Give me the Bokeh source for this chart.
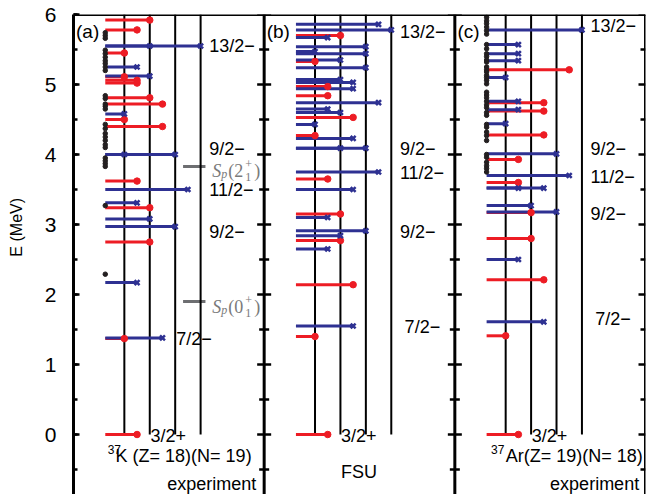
import numpy as np
from bokeh.plotting import figure
from bokeh.layouts import row
from bokeh.models import (Range1d, SingleIntervalTicker, Label, Span, ColumnDataSource)
from bokeh.embed import file_html
from bokeh.resources import INLINE

# ---------------- data (energies in MeV, spins as 2J) ----------------
# (a) 37K experiment
k37_pos_E  = [0.00, 1.37, 2.75, 3.24, 3.62, 4.40, 4.50, 4.72, 4.81, 5.02, 5.06, 5.11, 5.45, 5.78, 5.92]
k37_pos_2J = [3, 1, 5, 5, 3, 7, 1, 7, 5, 3, 3, 1, 1, 3, 5]
k37_neg_E  = [1.38, 2.17, 2.97, 3.08, 3.31, 3.50, 4.00, 4.00, 4.58, 5.12, 5.25, 5.55, 5.55]
k37_neg_2J = [7, 3, 9, 5, 3, 11, 1, 9, 1, 5, 3, 5, 13]
k37_other_E = [5.74, 5.70, 5.66, 5.49, 5.44, 5.39, 5.34, 5.30, 5.25, 5.20,
               4.84, 4.80, 4.72, 4.69, 4.65, 4.43, 4.37, 4.30, 4.25, 4.20, 4.14, 4.10,
               3.95, 3.91, 3.87, 3.83, 3.27, 2.29]
# (b) FSU
fsu_pos_E  = [0.00, 1.40, 2.14, 2.77, 3.15, 3.65, 4.27, 4.53, 4.84, 4.97, 5.33, 5.70]
fsu_pos_2J = [3, 1, 7, 5, 5, 3, 1, 7, 3, 3, 1, 5]
fsu_neg_E  = [1.55, 2.65, 2.84, 2.91, 3.10, 3.50, 3.75, 4.09, 4.09, 4.23, 4.43, 4.60, 4.65,
              4.74, 4.94, 5.03, 5.07, 5.24, 5.35, 5.44, 5.47, 5.54, 5.67, 5.78, 5.86]
fsu_neg_2J = [7, 3, 5, 9, 3, 7, 11, 5, 9, 7, 1, 5, 3, 11, 7, 7, 5, 9, 5, 9, 1, 9, 3, 13, 11]
fsu_other_E = []
# (c) 37Ar experiment
ar37_pos_E  = [0.00, 1.41, 2.21, 2.80, 3.17, 3.60, 3.93, 4.28, 4.62, 4.74, 5.21]
ar37_pos_2J = [3, 1, 7, 5, 5, 3, 3, 7, 7, 7, 11]
ar37_neg_E  = [1.61, 2.50, 3.18, 3.27, 3.52, 3.52, 3.70, 4.01, 4.44, 4.64, 4.76, 5.10, 5.34, 5.44, 5.57, 5.78]
ar37_neg_2J = [7, 3, 9, 5, 3, 7, 11, 9, 1, 3, 3, 1, 3, 3, 3, 13]
ar37_other_E = [5.96, 5.91, 5.87, 5.82, 5.77, 5.72, 5.57, 5.51, 5.44, 5.40, 5.35, 5.32, 5.25,
                5.21, 5.18, 5.13, 5.10, 5.06, 5.01, 4.89, 4.85, 4.81, 4.76, 4.71, 4.67, 4.60,
                4.56, 4.43, 4.39, 4.32, 4.27, 4.20, 4.00, 3.96, 3.89, 3.84, 3.80, 3.75]

guide_2J = [1, 5, 9, 13]            # reference spin lines
sp_E = [1.90, 3.83]                  # proton separation energies in 37K
sp_state = [("0", "+", "1"), ("2", "+", "1")]

panel_tags = ["(a)", "(b)", "(c)"]
spin_text = ["13/2\u2212", "9/2\u2212", "11/2\u2212", "9/2\u2212", "7/2\u2212"]
spin_E = [[5.55, 4.08, 3.49, 2.90, 1.37],
          [5.75, 4.08, 3.73, 2.90, 1.53],
          [5.83, 4.08, 3.68, 3.15, 1.65]]
gs_text = "3/2+"
y_title = "E (MeV)"

# ---------------- layout constants ----------------
PANEL_W = 15.0     # width of one panel in spin units
J_OFF = 3.5        # panel left edge sits at J = -3.5
J_START = -1.0     # levels start at J = -1
RED = "#ed1c24"
BLUE = "#2e3192"
BLACK = "#231f20"
GREY = "#7a7a7a"
SANS = "Liberation Sans"
SERIF = "Liberation Serif"
W_T = 30                            # strip holding the axis title
W, H = 647 - W_T, 494
ML, MR, MT = 73 - W_T, 2, 14
X_END = 3 * PANEL_W
Y1 = 6.0
PY = 70.0                          # px per MeV
Y0 = Y1 - (H - MT) / PY
PX = (W - ML - MR) / X_END         # px per spin unit


def gx(k, J):
    return k * PANEL_W + J_OFF + np.asarray(J, dtype=float)


# ---- narrow strip with the y-axis title ----
t = figure(width=W_T, height=H, x_range=Range1d(0, W_T), y_range=Range1d(Y0, Y1),
           output_backend="svg", toolbar_location=None, x_axis_location=None, y_axis_location=None,
           min_border_left=0, min_border_right=0, min_border_top=MT, min_border_bottom=0)
t.outline_line_color = None
t.grid.visible = False
t.add_layout(Label(x=16, y=2.96, text=y_title, angle=np.pi / 2, text_align="center",
                   text_baseline="middle", text_font=SANS, text_font_size="16px",
                   text_color="black"))

# ---- main figure ----
p = figure(width=W, height=H, x_range=Range1d(0, X_END), y_range=Range1d(Y0, Y1),
           output_backend="svg", toolbar_location=None, x_axis_location=None,
           min_border_left=ML, min_border_right=MR, min_border_top=MT, min_border_bottom=0)
p.outline_line_color = None
p.grid.visible = False

ya = p.yaxis[0]
ya.ticker = SingleIntervalTicker(interval=1, num_minor_ticks=2)
ya.major_tick_in = 6
ya.major_tick_out = 0
ya.minor_tick_in = 4
ya.minor_tick_out = 0
ya.axis_line_width = 3
ya.major_tick_line_width = 2.5
ya.minor_tick_line_width = 2.5
ya.major_label_text_font = SANS
ya.major_label_text_font_size = "21px"
ya.major_label_text_color = "black"
ya.major_label_standoff = 17

# frame borders: top, right and the two panel dividers
major_t = [v for v in range(0, 7)]
minor_t = [v + 0.5 for v in range(-1, 6)]
p.add_layout(Span(location=Y1, dimension="width", line_color="black", line_width=3))
for k in (1, 2, 3):
    xm = k * PANEL_W
    p.add_layout(Span(location=xm, dimension="height", line_color="black", line_width=3))
    right_len = 0 if k == 3 else 1
    p.segment(x0=[xm - 7 / PX] * len(major_t), x1=[xm + right_len * 7 / PX] * len(major_t),
              y0=major_t, y1=major_t, line_color="black", line_width=2.5)
    p.segment(x0=[xm - 5 / PX] * len(minor_t), x1=[xm + right_len * 5 / PX] * len(minor_t),
              y0=minor_t, y1=minor_t, line_color="black", line_width=2.5)

panels = [
    (k37_pos_E, k37_pos_2J, k37_neg_E, k37_neg_2J, k37_other_E),
    (fsu_pos_E, fsu_pos_2J, fsu_neg_E, fsu_neg_2J, fsu_other_E),
    (ar37_pos_E, ar37_pos_2J, ar37_neg_E, ar37_neg_2J, ar37_other_E),
]

# separation energies (panel a)
for E in sp_E:
    p.segment(x0=[gx(0, 5.12)], x1=[gx(0, 6.88)], y0=[E], y1=[E], line_color="#6d6e71", line_width=3)

# spin guide lines
for k in range(3):
    gxs = gx(k, np.array(guide_2J) / 2)
    p.segment(x0=gxs, x1=gxs, y0=[0] * len(gxs), y1=[6] * len(gxs), line_color="black", line_width=2)

# level lines
for k, (pE, p2J, nE, n2J, oE) in enumerate(panels):
    src = ColumnDataSource(dict(x0=gx(k, [J_START] * len(pE)), x1=gx(k, np.array(p2J) / 2), y=pE))
    p.segment(x0="x0", x1="x1", y0="y", y1="y", source=src, line_color=RED, line_width=3)
for k, (pE, p2J, nE, n2J, oE) in enumerate(panels):
    src = ColumnDataSource(dict(x0=gx(k, [J_START] * len(nE)), x1=gx(k, np.array(n2J) / 2), y=nE))
    p.segment(x0="x0", x1="x1", y0="y", y1="y", source=src, line_color=BLUE, line_width=3)
for k, (pE, p2J, nE, n2J, oE) in enumerate(panels):
    p.scatter(x=gx(k, np.array(p2J) / 2), y=pE, marker="circle", size=6.5,
              fill_color=RED, line_color=RED)
for k, (pE, p2J, nE, n2J, oE) in enumerate(panels):
    p.scatter(x=gx(k, np.array(n2J) / 2), y=nE, marker="x", size=7,
              line_color=BLUE, line_width=2.5)
for k, (pE, p2J, nE, n2J, oE) in enumerate(panels):
    if oE:
        p.scatter(x=gx(k, [J_START] * len(oE)), y=oE, marker="circle", size=4.5,
                  fill_color=BLACK, line_color=BLACK)


def txt(x, y, s, size="18px", align="left", baseline="middle", font=SANS, style="normal",
        color="black", xo=0, yo=0):
    p.add_layout(Label(x=x, y=y, text=s, text_font_size=size, text_align=align,
                       text_baseline=baseline, text_font=font, text_font_style=style,
                       text_color=color, x_offset=xo, y_offset=yo))


# panel tags, spin labels, ground-state labels
for k in range(3):
    txt(gx(k, -3.3), 5.76, panel_tags[k], size="19px")
    for i, s in enumerate(spin_text):
        jl = 7.18
        if s.startswith("7/2"):
            jl = 4.58 if k == 0 else 7.55
        txt(gx(k, jl), spin_E[k][i], s)
    txt(gx(k, 2.55), -0.02, gs_text)

# nucleus labels
txt(gx(0, -0.81), -0.30, "37", size="12px", yo=6)
txt(gx(0, -0.19), -0.30, "K  (Z= 18)(N= 19)")
txt(gx(0, 10.88), -0.70, "experiment", align="right")
txt(gx(1, 3.96), -0.54, "FSU", align="center")
txt(gx(2, -0.65), -0.30, "37", size="12px", yo=6)
txt(gx(2, 0.50), -0.30, "Ar(Z= 19)(N= 18)")
txt(gx(2, 11.0), -0.70, "experiment", align="right")

# S_p labels
for E, (n, par, sub) in zip(sp_E, sp_state):
    x0 = gx(0, 7.42)
    txt(x0, E, "S", size="18px", baseline="alphabetic", font=SERIF, style="italic", color=GREY, yo=-5)
    txt(x0, E, "p", size="12px", baseline="alphabetic", font=SERIF, style="italic", color=GREY, xo=9, yo=-8)
    txt(x0, E, "(" + n, size="18px", baseline="alphabetic", font=SERIF, color=GREY, xo=16, yo=-5)
    txt(x0, E, par, size="12px", baseline="alphabetic", font=SERIF, color=GREY, xo=33, yo=2)
    txt(x0, E, sub, size="12px", baseline="alphabetic", font=SERIF, color=GREY, xo=33, yo=-11)
    txt(x0, E, ")", size="18px", baseline="alphabetic", font=SERIF, color=GREY, xo=42, yo=-5)

layout = row(t, p, spacing=0)
open("out.html", "w").write(file_html(layout, INLINE))
